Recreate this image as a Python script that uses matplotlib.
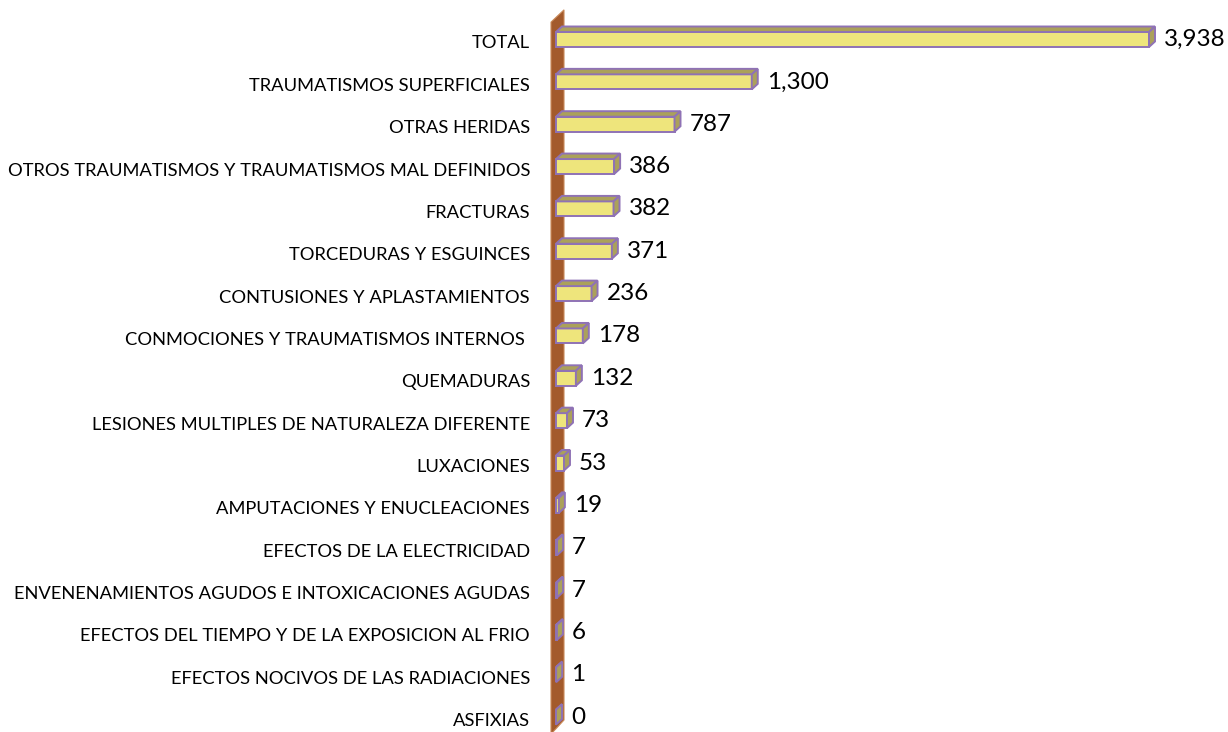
import matplotlib.pyplot as plt
from matplotlib.patches import Polygon

categories = [
    "TOTAL",
    "TRAUMATISMOS SUPERFICIALES",
    "OTRAS HERIDAS",
    "OTROS TRAUMATISMOS Y TRAUMATISMOS MAL DEFINIDOS",
    "FRACTURAS",
    "TORCEDURAS Y ESGUINCES",
    "CONTUSIONES Y APLASTAMIENTOS",
    "CONMOCIONES Y TRAUMATISMOS INTERNOS ",
    "QUEMADURAS",
    "LESIONES MULTIPLES DE NATURALEZA DIFERENTE",
    "LUXACIONES",
    "AMPUTACIONES Y ENUCLEACIONES",
    "EFECTOS DE LA ELECTRICIDAD",
    "ENVENENAMIENTOS AGUDOS E INTOXICACIONES AGUDAS",
    "EFECTOS DEL TIEMPO Y DE LA EXPOSICION AL FRIO",
    "EFECTOS NOCIVOS DE LAS RADIACIONES",
    "ASFIXIAS",
]
values = [3938, 1300, 787, 386, 382, 371, 236, 178, 132, 73, 53, 19, 7, 7, 6, 1, 0]

W, H = 1228, 732
x0_px = 556          # pixel of value 0
k = 593 / 3938       # pixels per unit
row0_px = 39.5       # pixel of first row centre
row_px = 42.35       # pixels per row

fig = plt.figure(figsize=(W / 100, H / 100), dpi=100)
ax = fig.add_axes([0, 0, 1, 1])
ax.set_xlim(-x0_px / k, (W - x0_px) / k)
ax.set_ylim((H - row0_px) / row_px, -row0_px / row_px)
ax.axis("off")

front = "#EEE57C"
shade = "#ABA15A"
edge = "#8F72B5"
brown = "#A35A2C"

dx = 6 / k
dy = 5.5 / row_px
h = 15 / row_px

# wall
wall = Polygon([(-5 / k, -0.41), (8 / k, -0.70), (8 / k, 16.07), (-5 / k, 16.40)],
               closed=True, facecolor=brown, edgecolor="#C98A5A", linewidth=0.8, zorder=1)
ax.add_patch(wall)

ys = list(range(len(categories)))
ax.barh(ys, values, height=h, left=0, color=front, edgecolor=edge, linewidth=1.4, zorder=3)

for y, v, name in zip(ys, values, categories):
    top = y - h / 2
    bot = y + h / 2
    ax.add_patch(Polygon([(0, top), (v, top), (v + dx, top - dy), (dx, top - dy)],
                         closed=True, facecolor=shade, edgecolor=edge, linewidth=1.4, zorder=3))
    ax.add_patch(Polygon([(v, top), (v, bot), (v + dx, bot - dy), (v + dx, top - dy)],
                         closed=True, facecolor=shade, edgecolor=edge, linewidth=1.4, zorder=3))
    ax.text(v + 15 / k, y, f"{v:,}", ha="left", va="center",
            fontsize=17.5, family="Lato", color="black", zorder=4)
    ax.text(-26 / k, y + 4 / row_px, name, ha="right", va="center",
            fontsize=13.2, family="Lato", color="black", zorder=4)

fig.savefig("out.png", dpi=100, facecolor="white")
